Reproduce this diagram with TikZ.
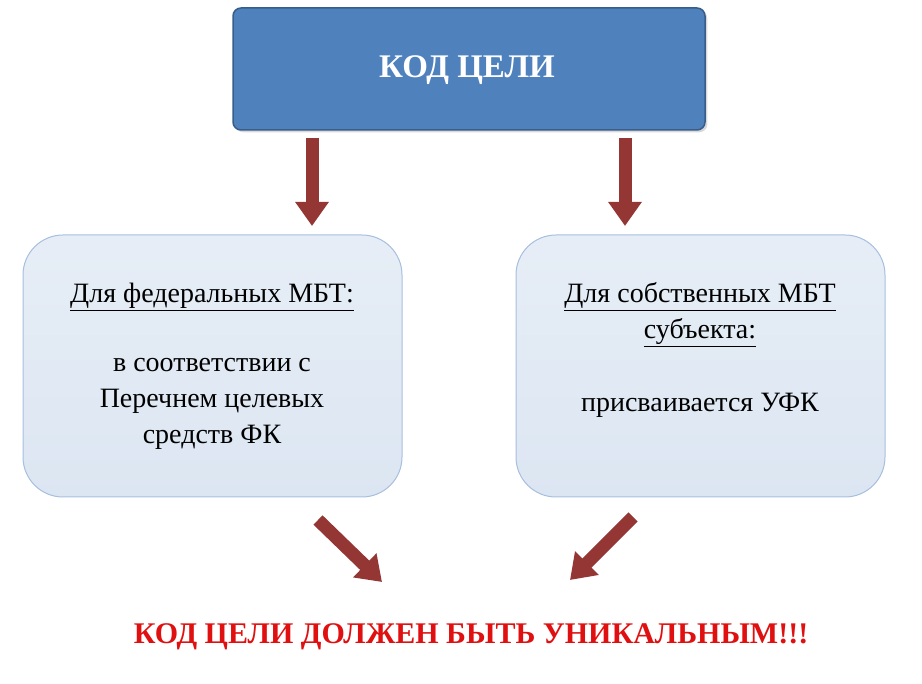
\documentclass[tikz,border=0pt]{standalone}
\usepackage{fontspec}
\setmainfont{Liberation Serif}
\usetikzlibrary{arrows.meta,shadows}
\definecolor{topfill}{HTML}{4F81BD}
\definecolor{topdraw}{HTML}{385D8A}
\definecolor{boxfill}{HTML}{DCE6F2}
\definecolor{boxdraw}{HTML}{A7BFDE}
\definecolor{arr}{HTML}{943634}
\definecolor{warn}{HTML}{E01010}
\tikzset{
 topbox/.style={draw=topdraw,line width=1.5pt,fill=topfill,rounded corners=8pt,minimum width=472pt,minimum height=122pt,drop shadow={opacity=0.3}},
 sidebox/.style={draw=boxdraw,line width=1pt,top color=boxfill!70!white,bottom color=boxfill,rounded corners=40pt,minimum height=262pt},
 blockarrow/.style={draw=arr,line width=13pt,-{Triangle[width=32pt,length=24pt]},shorten >=0pt},
 txt/.style={font=\fontsize{28}{36}\selectfont,align=center}
}
\begin{document}
\begin{tikzpicture}[x=1pt,y=-1pt]
\useasboundingbox (0,0) rectangle (922,684);
\node[topbox] (top) at (469,69) {};
\node[text=white,font=\fontsize{33}{36}\selectfont\bfseries] (toptxt) at (467,70) {КОД ЦЕЛИ};
\node[sidebox,minimum width=379pt] (left) at (212.5,366) {};
\node[sidebox,minimum width=369pt] (right) at (700.5,366) {};
\node[txt] (l1) at (212,297) {\underline{Для федеральных МБТ:}};
\node[txt] (l2) at (212,404) {в соответствии с\\Перечнем целевых\\средств ФК};
\node[txt] (r1) at (700,315) {\underline{Для собственных МБТ}\\\underline{субъекта:}};
\node[txt] (r2) at (700,405) {присваивается УФК};
\node[font=\fontsize{30}{34}\selectfont\bfseries,text=warn] (bottom) at (471,637) {КОД ЦЕЛИ ДОЛЖЕН БЫТЬ УНИКАЛЬНЫМ!!!};
\coordinate (a1s) at (312,138); \coordinate (a1e) at (312,226);
\coordinate (a2s) at (625,138); \coordinate (a2e) at (625,226);
\coordinate (a3s) at (318,520); \coordinate (a3e) at (382,582);
\coordinate (a4s) at (633,517); \coordinate (a4e) at (570,580);
\draw[blockarrow] (a1s) -- (a1e);
\draw[blockarrow] (a2s) -- (a2e);
\draw[blockarrow] (a3s) -- (a3e);
\draw[blockarrow] (a4s) -- (a4e);
\end{tikzpicture}
\end{document}
